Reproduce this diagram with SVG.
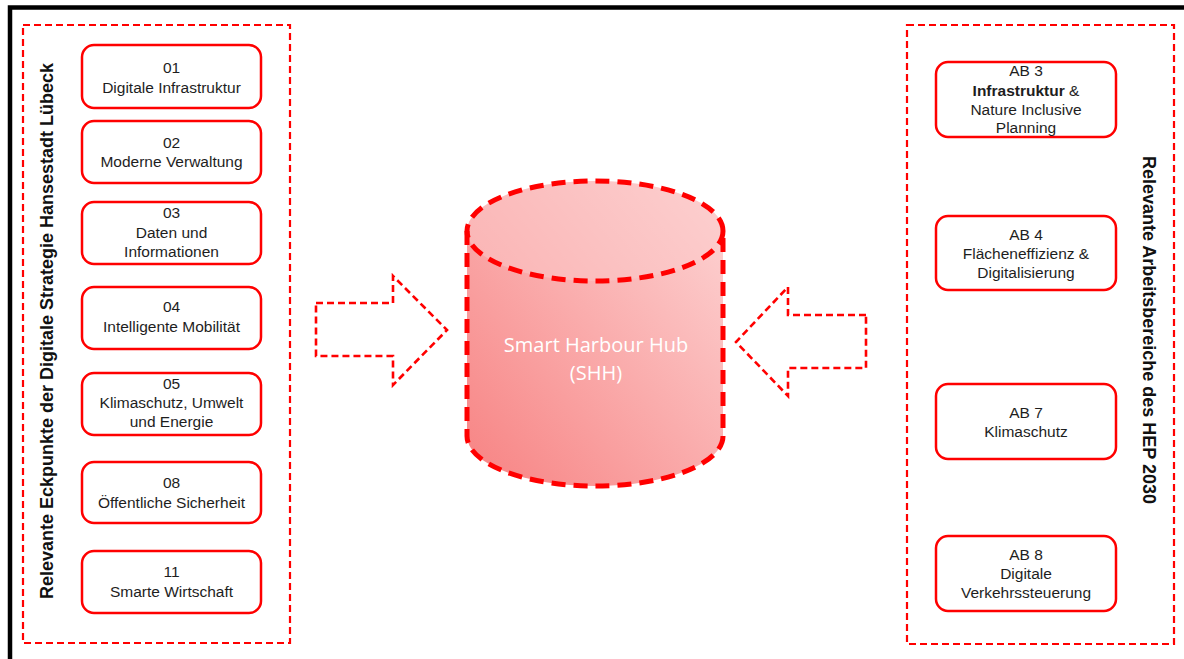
<svg xmlns="http://www.w3.org/2000/svg" width="1184" height="659" viewBox="0 0 1184 659">
<defs>
<linearGradient id="cylGrad" x1="0" y1="1" x2="1" y2="0">
<stop offset="0" stop-color="#f78282"/>
<stop offset="1" stop-color="#fdd6d6"/>
</linearGradient>
</defs>
<style>
.panel{fill:none;stroke:#ff0000;stroke-width:2.2;stroke-dasharray:7 4}
.box{fill:#ffffff;stroke:#ff0000;stroke-width:2.5}
.t{font-family:"Liberation Sans",Arial,sans-serif;font-size:15.5px;fill:#1e1e1e;text-anchor:middle}
.b{font-weight:bold}
.title{font-family:"Liberation Sans",Arial,sans-serif;font-size:18px;font-weight:bold;fill:#111;text-anchor:middle}
.arrow{fill:none;stroke:#ff0000;stroke-width:2.6;stroke-dasharray:7 4;stroke-linejoin:miter}
.cyl{stroke:#ff0000;stroke-width:5;stroke-dasharray:14 8}
.shh{font-family:"Open Sans","Liberation Sans",sans-serif;font-size:20px;fill:#ffffff;text-anchor:middle}
</style>
<rect width="1184" height="659" fill="#ffffff"/>
<path d="M10,659 V7.5 H1184" fill="none" stroke="#000" stroke-width="4.5"/>

<g id="panel-left">
<rect class="panel" x="23" y="25" width="267" height="618"/>
<text class="title" transform="translate(53,331) rotate(-90)">Relevante Eckpunkte der Digitale Strategie Hansestadt Lübeck</text>
</g>
<g id="panel-right">
<rect class="panel" x="907" y="25" width="267" height="619"/>
<text class="title" transform="translate(1143,330) rotate(90)">Relevante Arbeitsbereiche des HEP 2030</text>
</g>

<g id="node-01"><rect class="box" x="82" y="45" width="179" height="63" rx="12"/>
<text class="t" x="171.5" y="73">01</text><text class="t" x="171.5" y="93">Digitale Infrastruktur</text></g>
<g id="node-02"><rect class="box" x="82" y="121" width="179" height="62" rx="12"/>
<text class="t" x="171.5" y="148">02</text><text class="t" x="171.5" y="167">Moderne Verwaltung</text></g>
<g id="node-03"><rect class="box" x="82" y="202" width="179" height="62" rx="12"/>
<text class="t" x="171.5" y="218">03</text><text class="t" x="171.5" y="238">Daten und</text><text class="t" x="171.5" y="257">Informationen</text></g>
<g id="node-04"><rect class="box" x="82" y="287" width="179" height="62" rx="12"/>
<text class="t" x="171.5" y="312">04</text><text class="t" x="171.5" y="332">Intelligente Mobilität</text></g>
<g id="node-05"><rect class="box" x="82" y="373" width="179" height="62" rx="12"/>
<text class="t" x="171.5" y="389">05</text><text class="t" x="171.5" y="408">Klimaschutz, Umwelt</text><text class="t" x="171.5" y="427">und Energie</text></g>
<g id="node-08"><rect class="box" x="82" y="462" width="179" height="61" rx="12"/>
<text class="t" x="171.5" y="488">08</text><text class="t" x="171.5" y="508">Öffentliche Sicherheit</text></g>
<g id="node-11"><rect class="box" x="82" y="551" width="179" height="62" rx="12"/>
<text class="t" x="171.5" y="577">11</text><text class="t" x="171.5" y="597">Smarte Wirtschaft</text></g>

<g id="node-ab3"><rect class="box" x="936" y="62" width="180" height="75" rx="12"/>
<text class="t" x="1026" y="76">AB 3</text>
<text class="t" x="1026" y="96"><tspan class="b">Infrastruktur</tspan> &amp;</text>
<text class="t" x="1026" y="115">Nature Inclusive</text>
<text class="t" x="1026" y="133">Planning</text></g>
<g id="node-ab4"><rect class="box" x="936" y="216" width="180" height="74" rx="12"/>
<text class="t" x="1026" y="240">AB 4</text><text class="t" x="1026" y="259">Flächeneffizienz &amp;</text><text class="t" x="1026" y="278">Digitalisierung</text></g>
<g id="node-ab7"><rect class="box" x="936" y="384" width="180" height="75" rx="12"/>
<text class="t" x="1026" y="418">AB 7</text><text class="t" x="1026" y="437">Klimaschutz</text></g>
<g id="node-ab8"><rect class="box" x="936" y="536" width="180" height="75" rx="12"/>
<text class="t" x="1026" y="560">AB 8</text><text class="t" x="1026" y="579">Digitale</text><text class="t" x="1026" y="598">Verkehrssteuerung</text></g>

<g id="node-shh">
<path d="M467,231 V436 A128,50 0 0 0 723,436 V231 A128,50 0 0 0 467,231 Z" fill="url(#cylGrad)" stroke="none"/>
<ellipse cx="595" cy="231" rx="128" ry="50" fill="#fcc9c9" fill-opacity="0.5" stroke="none"/>
<path class="cyl" fill="none" d="M467,231 V436 A128,50 0 0 0 723,436 V231"/>
<ellipse class="cyl" fill="none" cx="595" cy="231" rx="128" ry="50"/>
<text class="shh" x="596" y="352">Smart Harbour Hub</text>
<text class="shh" x="596" y="380">(SHH)</text>
</g>

<g id="connectors">
<path class="arrow" d="M316,303 H393 V276 L447,330 L393,385 V356 H316 Z"/>
<path class="arrow" d="M866,315 H788 V287 L736,342 L788,396 V368 H866 Z"/>
</g>
</svg>
